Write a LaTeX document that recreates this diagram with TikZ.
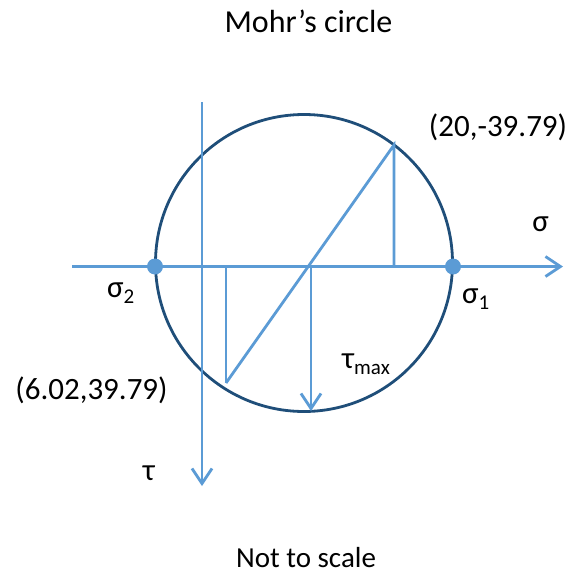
\documentclass[tikz,border=0pt]{standalone}
\usepackage{fontspec}
\setmainfont{Carlito}
\usetikzlibrary{arrows.meta}
\definecolor{lblue}{RGB}{91,155,213}
\definecolor{dblue}{RGB}{31,78,121}
\tikzset{
  axisline/.style={draw=lblue, line width=2.8pt},
  arrowline/.style={axisline, -{Straight Barb[length=15pt,width=20pt]}},
  circleline/.style={draw=dblue, line width=2.8pt},
  dot/.style={circle, fill=lblue, inner sep=0pt, minimum size=16pt},
  lbl/.style={inner sep=0pt, anchor=base, font=\fontsize{31}{33}\selectfont},
}
\newcommand{\sbs}[1]{\raisebox{-0.22em}{\fontsize{21}{22}\selectfont #1}}
\begin{document}
\begin{tikzpicture}[x=1pt,y=-1pt]
\useasboundingbox (0,0) rectangle (574,576);
% coordinates
\coordinate (hs) at (72,266.5);
\coordinate (he) at (563,266.5);
\coordinate (vs) at (202,102);
\coordinate (ve) at (202,486);
\coordinate (C) at (304,263);
\coordinate (P) at (394,145);
\coordinate (Pb) at (394,266.5);
\coordinate (Q) at (226,383);
\coordinate (Qt) at (226,266.5);
\coordinate (ts) at (311,268);
\coordinate (te) at (311,411);
% circle
\draw[circleline] (C) circle[radius=148.5];
% axes
\draw[arrowline] (hs) -- (he);
\draw[arrowline] (vs) -- (ve);
% construction
\draw[axisline] (Q) -- (P) -- (Pb);
\draw[axisline] (Qt) -- (Q);
\draw[arrowline] (ts) -- (te);
% dots
\node[dot] (s2) at (155,266.5) {};
\node[dot] (s1) at (453,266.5) {};
% labels
\node[lbl, font=\fontsize{32}{34}\selectfont] (title) at (308.5,32.3) {Mohr’s circle};
\node[lbl, font=\fontsize{29}{31}\selectfont] (note) at (306,567.5) {Not to scale};
\node[lbl] (lp) at (498,136.5) {(20,-39.79)};
\node[lbl] (lq) at (91.5,399) {(6.02,39.79)};
\node[lbl] (lsig) at (540.5,231) {σ};
\node[lbl, anchor=base west] (ls1) at (462,303) {σ\sbs{1}};
\node[lbl, anchor=base west] (ls2) at (107,297) {σ\sbs{2}};
\node[lbl, anchor=base west] (ltm) at (342,368) {τ\sbs{max}};
\node[lbl] (ltau) at (149,480) {τ};
\end{tikzpicture}
\end{document}
